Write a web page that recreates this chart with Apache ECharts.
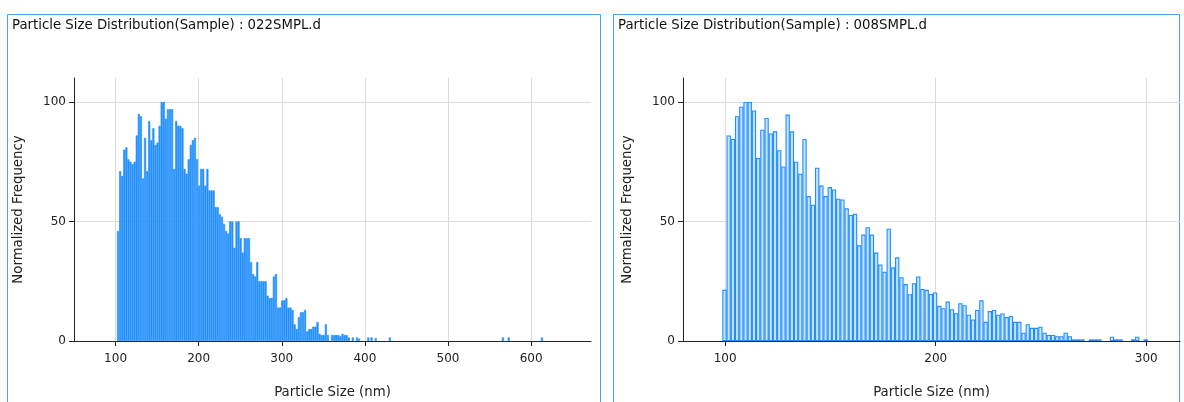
<!DOCTYPE html>
<html><head><meta charset="utf-8">
<script src="https://cdn.jsdelivr.net/npm/echarts@6/dist/echarts.min.js"></script>
<style>html,body{margin:0;padding:0;background:#fff}#c{width:1184px;height:402px}</style>
</head><body><div id="c"></div>
<script>
const leftTitle = 'Particle Size Distribution(Sample) : 022SMPL.d';
const rightTitle = 'Particle Size Distribution(Sample) : 008SMPL.d';
const xAxisTitle = 'Particle Size (nm)';
const yAxisTitle = 'Normalized Frequency';
const leftXTicks = [100, 200, 300, 400, 500, 600];
const rightXTicks = [100, 200, 300];
const yTicks = [0, 50, 100];

const leftSizes = [103,105.5,108,110.5,113,115.5,118,120.5,123,125.5,128,130.5,133,135.5,138,140.5,143,145.5,148,150.5,153,155.5,158,160.5,163,165.5,168,170.5,173,175.5,178,180.5,183,185.5,188,190.5,193,195.5,198,200.5,203,205.5,208,210.5,213,215.5,218,220.5,223,225.5,228,230.5,233,235.5,238,240.5,243,245.5,248,250.5,253,255.5,258,260.5,263,265.5,268,270.5,273,275.5,278,280.5,283,285.5,288,290.5,293,295.5,298,300.5,303,305.5,308,310.5,313,315.5,318,320.5,323,325.5,328,330.5,333,335.5,338,340.5,343,345.5,348,350.5,353,355.5,360.5,363,365.5,368,370.5,373,375.5,378,380.5,385.5,390.5,393,404,408,413,430,566,573,613];
const leftFreq = [46,71,69,80,81,76,75,74,75,86,95,94,68,85,71,92,84,89,82,83,90,100,100,93,97,97,97,72,92,90,90,89,72,70,76,82,84,85,76,65,72,72,65,72,63,63,63,56,56,53,52,49,46,45,50,50,39,50,50,43,37,43,43,43,33,28,27,33,25,25,25,25,19,18,18,27,28,14,14,17,17,18,14,14,13,7,5,10,12,12,13,4,5,5,6,6,8,3,2.5,2.5,7,2.5,2.5,2.5,2.5,2.5,2,3,2.5,2.5,1.5,1.5,1.5,1,1.5,1.5,1.2,1.5,1.5,1.5,1.5];

const rightSizes = [99.7,101.7,103.7,105.7,107.7,109.7,111.7,113.7,115.7,117.7,119.7,121.7,123.7,125.7,127.7,129.7,131.7,133.7,135.7,137.7,139.7,141.7,143.7,145.7,147.7,149.7,151.7,153.7,155.7,157.7,159.7,161.7,163.7,165.7,167.7,169.7,171.7,173.7,175.7,177.7,179.7,181.7,183.7,185.7,187.7,189.7,191.7,193.7,195.7,197.7,199.7,201.7,203.7,205.7,207.7,209.7,211.7,213.7,215.7,217.7,219.7,221.7,223.7,225.7,227.7,229.7,231.7,233.7,235.7,237.7,239.7,241.7,243.7,245.7,247.7,249.7,251.7,253.7,255.7,257.7,259.7,261.7,263.7,265.7,267.7,269.7,273.7,275.7,277.7,283.7,285.7,287.7,293.7,295.7,299.7];
const rightFreq = [21.4,86,84.5,94,98,100,100,96.4,76.5,88.4,93.3,86.8,87.7,79.8,73,94.7,87.7,75,70,84.5,60.6,57,72.5,65,60.6,64.4,63.4,59.5,59.2,55.5,52.7,53.2,40,44.5,47.6,44.5,37,32,29,47,30.8,35,26.7,23.8,19.6,24.2,27,21.8,21.4,19.7,20.3,14.7,13.7,16.5,13.3,11.6,15.8,15,11,9,13,17,8,12.5,13,11,11.5,10,10.5,8,8,3.5,7,5.5,5.5,6,3.5,2.5,2.5,2,2,3.5,2,0.7,0.7,0.7,0.7,0.7,0.7,1.8,0.7,0.7,0.7,1.8,0.7];

const FONT = '"DejaVu Sans", Verdana, sans-serif';
const chart = echarts.init(document.getElementById('c'), null, {renderer: 'canvas'});

function xAxisCfg(gridIndex, min, max, ticks) {
  return {
    type: 'value', gridIndex, min, max,
    name: xAxisTitle, nameLocation: 'middle', nameGap: 45,
    nameTextStyle: {fontFamily: FONT, fontSize: 13.3, color: '#222'},
    axisLine: {show: true, onZero: false, lineStyle: {color: '#222', width: 1}},
    axisTick: {show: true, length: 5, customValues: ticks, lineStyle: {color: '#222'}},
    axisLabel: {customValues: ticks, fontFamily: FONT, fontSize: 12, color: '#222', margin: 12},
    splitLine: {show: true, lineStyle: {color: '#dcdcdc', width: 1}}
  };
}
function yAxisCfg(gridIndex) {
  return {
    type: 'value', gridIndex, min: 0, max: 110,
    name: yAxisTitle, nameLocation: 'middle', nameGap: 49, nameRotate: 90,
    nameTextStyle: {fontFamily: FONT, fontSize: 13.3, color: '#222'},
    axisLine: {show: true, lineStyle: {color: '#222', width: 1}},
    axisTick: {show: true, length: 5, customValues: yTicks, lineStyle: {color: '#222'}},
    axisLabel: {customValues: yTicks, fontFamily: FONT, fontSize: 12, color: '#222', margin: 8},
    splitLine: {show: true, lineStyle: {color: '#dcdcdc', width: 1}}
  };
}

chart.setOption({
  animation: false,
  grid: [
    {left: 74, top: 78, width: 517, height: 263, outerBoundsMode: 'none', containLabel: false},
    {left: 683, top: 78, width: 497, height: 263, outerBoundsMode: 'none', containLabel: false}
  ],
  xAxis: [xAxisCfg(0, 50, 672, leftXTicks), xAxisCfg(1, 80, 316, rightXTicks)],
  yAxis: [yAxisCfg(0), yAxisCfg(1)],
  series: [
    {
      type: 'bar', xAxisIndex: 0, yAxisIndex: 0, barWidth: 2.1,
      data: leftSizes.map((s, i) => [s, leftFreq[i]]),
      itemStyle: {color: '#2b8ff5', borderColor: '#1E90FF', borderWidth: 0.6}
    },
    {
      type: 'bar', xAxisIndex: 1, yAxisIndex: 1, barWidth: 4.35,
      data: rightSizes.map((s, i) => [s, rightFreq[i]]),
      itemStyle: {color: '#c8e2ff', borderColor: '#1E90FF', borderWidth: 1.1}
    }
  ],
  graphic: [
    {type: 'rect', shape: {x: 7.5, y: 14.5, width: 593, height: 400}, style: {fill: null, stroke: '#4aa0f0', lineWidth: 1}, silent: true},
    {type: 'rect', shape: {x: 613.5, y: 14.5, width: 566, height: 400}, style: {fill: null, stroke: '#4aa0f0', lineWidth: 1}, silent: true},
    {type: 'text', x: 12, y: 26, style: {text: leftTitle, fontFamily: FONT, fontSize: 13.3, fill: '#111', textVerticalAlign: 'middle'}},
    {type: 'text', x: 618, y: 26, style: {text: rightTitle, fontFamily: FONT, fontSize: 13.3, fill: '#111', textVerticalAlign: 'middle'}}
  ]
});
</script>
</body></html>
